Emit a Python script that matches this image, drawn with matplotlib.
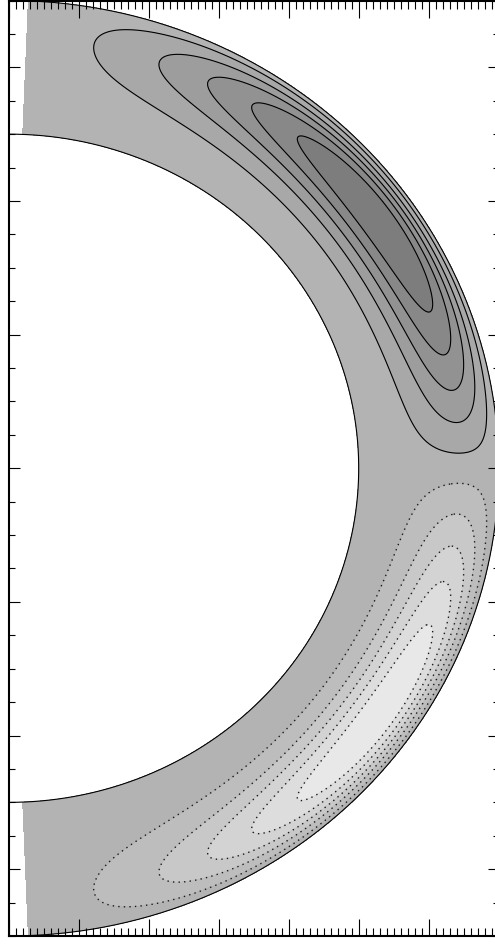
import numpy as np
import matplotlib.pyplot as plt
from matplotlib.ticker import MultipleLocator

# shell geometry, in plot units
r_inner = 0.5
r_outer = 0.7
theta_edge = 2.3  # deg, first/last colatitude of the model grid

# radial shape of the meridional stream function
rad_exp_in = 4.0
rad_exp_out = 1.5

# contour levels, in units of the level spacing (peak |psi| = 5.5)
psi_max = 5.5
neg_levels = [-4.5, -3.5, -2.5, -1.5, -0.5]
pos_levels = [0.5, 1.5, 2.5, 3.5, 4.5]
fill_grays = [0.91, 0.868, 0.826, 0.784, 0.742, 0.70,
              0.658, 0.616, 0.574, 0.532, 0.49]

# stream function psi(r, theta) = f(r) sin^2(theta) cos(theta)
r = np.linspace(r_inner, r_outer, 300)
th = np.radians(np.linspace(theta_edge, 180 - theta_edge, 901))
R, TH = np.meshgrid(r, th)
u = (R - r_inner) / (r_outer - r_inner)
psi = u**rad_exp_in * (1 - u)**rad_exp_out * np.sin(TH)**2 * np.cos(TH)
psi *= psi_max / psi.max()
X = R * np.sin(TH)
Y = R * np.cos(TH)

fig = plt.figure(figsize=(4.95, 9.45), dpi=100)
ax = fig.add_axes([8.7 / 495, 8 / 945, 490 / 495, 935.5 / 945])

bounds = [-psi_max - 0.1] + neg_levels + pos_levels + [psi_max + 0.1]
ax.contourf(X, Y, psi, levels=bounds, colors=[str(g) for g in fill_grays])
ax.contour(X, Y, psi, levels=pos_levels, colors="k", linewidths=0.8,
           linestyles="solid")
ax.contour(X, Y, psi, levels=neg_levels, colors="0.1", linewidths=1.0,
           linestyles=[(0, (1, 3))])

# inner and outer boundaries of the shell
t = np.linspace(0, np.pi, 400)
for rb in (r_inner, r_outer):
    ax.plot(rb * np.sin(t), rb * np.cos(t), color="k", lw=0.8)

ax.set_xlim(0, 0.7)
ax.set_ylim(-0.7, 0.7)
ax.xaxis.set_major_locator(MultipleLocator(0.1))
ax.xaxis.set_minor_locator(MultipleLocator(0.01))
ax.yaxis.set_major_locator(MultipleLocator(0.2))
ax.yaxis.set_minor_locator(MultipleLocator(0.05))
ax.tick_params(which="both", direction="in", top=True, right=True,
               labelbottom=False, labelleft=False, width=0.8, color="k")
ax.tick_params(axis="x", which="major", length=12.5)
ax.tick_params(axis="x", which="minor", length=6)
ax.tick_params(axis="y", which="major", length=8)
ax.tick_params(axis="y", which="minor", length=4)
for s in ax.spines.values():
    s.set_linewidth(1.5)

fig.savefig("out.png", dpi=100)
